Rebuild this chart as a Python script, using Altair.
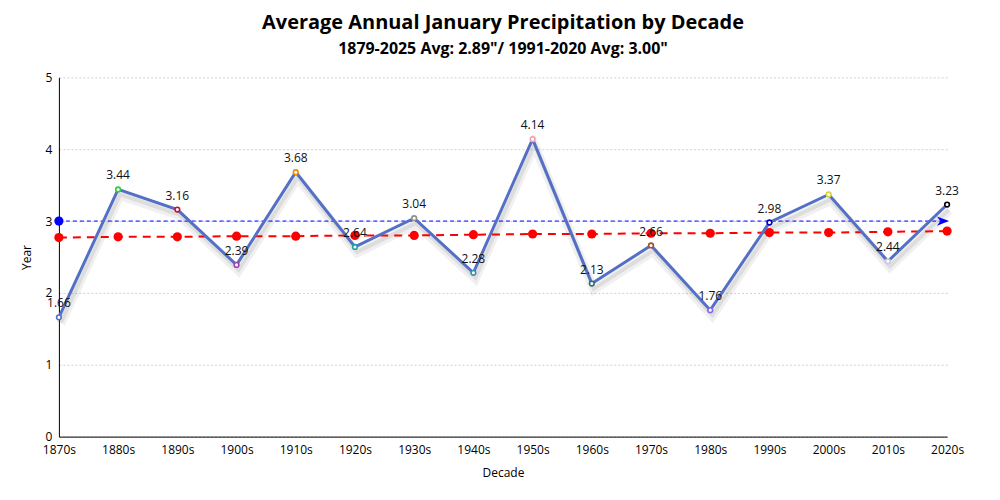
import altair as alt
import pandas as pd

decades = ["1870s", "1880s", "1890s", "1900s", "1910s", "1920s", "1930s", "1940s",
           "1950s", "1960s", "1970s", "1980s", "1990s", "2000s", "2010s", "2020s"]
precip = [1.66, 3.44, 3.16, 2.39, 3.68, 2.64, 3.04, 2.28,
          4.14, 2.13, 2.66, 1.76, 2.98, 3.37, 2.44, 3.23]
trend = [2.77, 2.78, 2.78, 2.79, 2.79, 2.80, 2.80, 2.81,
         2.82, 2.82, 2.83, 2.83, 2.84, 2.84, 2.85, 2.86]
marker_colors = ["#5470c6", "#2ecc40", "#c8102e", "#a040b0", "#f08c00", "#20a0a0",
                 "#909090", "#3a8fb0", "#f0a0b0", "#2f6f6f", "#a0522d", "#7b68ee",
                 "#0000cd", "#d4d44a", "#c8c8e8", "#000000"]
normal_value = 3.00
normal_span = ["1870s", "2020s"]

df = pd.DataFrame({"decade": decades, "precip": precip, "trend": trend})
df["label"] = [f"{v:.2f}" for v in precip]
norm_df = pd.DataFrame({"decade": normal_span, "val": [normal_value, normal_value]})

FONT = "Open Sans"

x = alt.X("decade:N", sort=decades,
          scale=alt.Scale(type="point", padding=0),
          axis=alt.Axis(title="Decade", labelAngle=0, grid=False, ticks=False,
                        domainColor="black", labelColor="black", titleColor="black",
                        labelFontSize=12, titleFontSize=12, titleFontWeight="normal",
                        labelPadding=8, titlePadding=12))
y_axis = alt.Axis(title="Year", values=[0, 1, 2, 3, 4, 5], format="d", ticks=False,
                  domainColor="black", gridColor="#d0d0d0", gridDash=[2, 2],
                  labelColor="black", titleColor="black", labelFontSize=12,
                  titleFontSize=12, titleFontWeight="normal", labelPadding=7,
                  titlePadding=12)
yscale = alt.Scale(domain=[0, 5], nice=False)

base = alt.Chart(df)

shadow1 = base.mark_line(color="#000000", opacity=0.06, strokeWidth=9, yOffset=6, xOffset=2).encode(
    x=x, y=alt.Y("precip:Q", scale=yscale, axis=y_axis))
shadow2 = base.mark_line(color="#000000", opacity=0.08, strokeWidth=4, yOffset=5, xOffset=2).encode(
    x=x, y=alt.Y("precip:Q", scale=yscale))

trend_line = base.mark_line(color="#ff0000", strokeWidth=2, strokeDash=[8, 6]).encode(
    x=x, y=alt.Y("trend:Q", scale=yscale))
trend_pts = base.mark_circle(color="#ff0000", opacity=1, size=85).encode(
    x=x, y=alt.Y("trend:Q", scale=yscale))

norm_base = alt.Chart(norm_df)
norm_line = norm_base.mark_line(color="#0000ff", strokeWidth=1, strokeDash=[4, 3]).encode(
    x=x, y=alt.Y("val:Q", scale=yscale))
norm_start = norm_base.transform_filter(alt.datum.decade == normal_span[0]).mark_circle(
    color="#0000ff", opacity=1, size=85).encode(x=x, y=alt.Y("val:Q", scale=yscale))
norm_arrow = norm_base.transform_filter(alt.datum.decade == normal_span[1]).mark_point(
    shape="M-2,-0.75 L0,0 L-2,0.75 L-1.4,0 Z", filled=True, color="#0000ff", opacity=1,
    size=150, xOffset=2).encode(x=x, y=alt.Y("val:Q", scale=yscale))

main_line = base.mark_line(color="#5470c6", strokeWidth=3).encode(
    x=x, y=alt.Y("precip:Q", scale=yscale))
markers = base.mark_point(filled=True, fill="white", strokeWidth=1.6, size=22, opacity=1).encode(
    x=x, y=alt.Y("precip:Q", scale=yscale),
    stroke=alt.Stroke("decade:N", scale=alt.Scale(domain=decades, range=marker_colors), legend=None))
labels = base.mark_text(dy=-14, fontSize=12, color="#111111", font=FONT).encode(
    x=x, y=alt.Y("precip:Q", scale=yscale), text="label:N")

chart = alt.layer(shadow1, shadow2, trend_line, trend_pts, norm_line, norm_start,
                  main_line, markers, norm_arrow, labels).properties(
    width=890, height=360,
    title=alt.TitleParams(
        text="Average Annual January Precipitation by Decade",
        subtitle='1879-2025 Avg: 2.89"/ 1991-2020 Avg: 3.00"',
        anchor="middle", fontSize=20, fontWeight="bold", color="black", font=FONT,
        subtitleFontSize=16, subtitleFontWeight="bold", subtitleColor="black",
        subtitleFont=FONT, subtitlePadding=8, offset=14),
    autosize=alt.AutoSizeParams(type="none"),
    padding={"left": 51, "top": 69, "right": 45, "bottom": 50},
).configure(font=FONT).configure_view(stroke=None)

chart.save("out.html", embed_options={"renderer": "svg", "actions": False})
